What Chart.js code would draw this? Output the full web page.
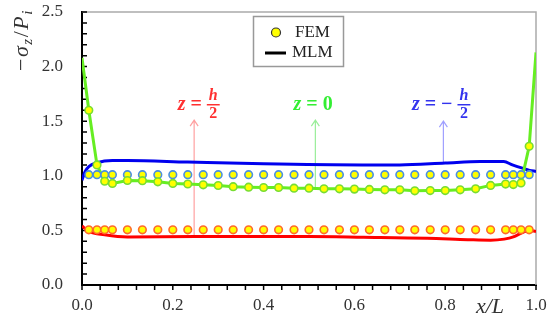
<!DOCTYPE html>
<html>
<head>
<meta charset="utf-8">
<script src="https://cdn.jsdelivr.net/npm/chart.js@4"></script>
<style>
  body { margin: 0; background: #fff; }
  #wrap { width: 549px; height: 321px; }
</style>
</head>
<body>
<div id="wrap"><canvas id="chart"></canvas></div>
<script>
// FEM sample positions (x/L)
const xFem = [0.015, 0.033, 0.05, 0.067, 0.1, 0.133, 0.167, 0.2, 0.233, 0.267, 0.3,
  0.333, 0.367, 0.4, 0.433, 0.467, 0.5, 0.533, 0.567, 0.6, 0.633, 0.667, 0.7,
  0.733, 0.767, 0.8, 0.833, 0.867, 0.9, 0.933, 0.95, 0.967, 0.985];

// FEM values
const femTop = [0.505, 0.505, 0.505, 0.505, 0.505, 0.505, 0.505, 0.505, 0.505, 0.505, 0.505,
  0.505, 0.505, 0.505, 0.505, 0.505, 0.505, 0.505, 0.505, 0.505, 0.505, 0.505, 0.505,
  0.505, 0.505, 0.505, 0.505, 0.505, 0.505, 0.505, 0.505, 0.505, 0.505];
const femMid = [1.6, 1.1, 0.95, 0.93, 0.957, 0.955, 0.945, 0.93, 0.925, 0.917, 0.911,
  0.9, 0.896, 0.893, 0.893, 0.887, 0.887, 0.881, 0.881, 0.878, 0.875, 0.872, 0.872,
  0.862, 0.865, 0.865, 0.872, 0.881, 0.912, 0.924, 0.92, 0.935, 1.27];
const femBot = [1.01, 1.01, 1.01, 1.01, 1.01, 1.01, 1.01, 1.01, 1.01, 1.01, 1.01,
  1.01, 1.01, 1.01, 1.01, 1.01, 1.01, 1.01, 1.01, 1.01, 1.01, 1.01, 1.01,
  1.01, 1.01, 1.01, 1.01, 1.01, 1.01, 1.01, 1.01, 1.01, 1.01];

// MLM curves
const mlmTopX = [0, 0.015, 0.05, 0.1, 0.25, 0.5, 0.62, 0.76, 0.85, 0.9, 0.93, 0.95, 0.97, 0.985, 1.0];
const mlmTop = [0.54, 0.49, 0.46, 0.44, 0.443, 0.443, 0.437, 0.428, 0.415, 0.41, 0.42, 0.44, 0.48, 0.5, 0.49];
const mlmMidX = [0, 0.015, 0.033, 0.05, 0.067, 0.1, 0.133, 0.167, 0.2, 0.233, 0.267, 0.3,
  0.333, 0.367, 0.4, 0.433, 0.467, 0.5, 0.533, 0.567, 0.6, 0.633, 0.667, 0.7,
  0.733, 0.767, 0.8, 0.833, 0.867, 0.9, 0.933, 0.95, 0.967, 0.985, 1.0];
const mlmMid = [2.08, 1.6, 1.1, 0.95, 0.93, 0.957, 0.955, 0.945, 0.93, 0.925, 0.917, 0.911,
  0.9, 0.896, 0.893, 0.893, 0.887, 0.887, 0.881, 0.881, 0.878, 0.875, 0.872, 0.872,
  0.862, 0.865, 0.865, 0.872, 0.881, 0.912, 0.924, 0.92, 0.935, 1.27, 2.13];
const mlmBotX = [0, 0.007, 0.015, 0.033, 0.067, 0.1, 0.233, 0.4, 0.617, 0.7, 0.8, 0.877, 0.929, 0.948, 0.97, 0.986, 1.0];
const mlmBot = [0.96, 1.04, 1.085, 1.12, 1.14, 1.14, 1.126, 1.11, 1.1, 1.1, 1.117, 1.13, 1.13, 1.1, 1.07, 1.05, 1.04];

const xTicks = [0, 0.2, 0.4, 0.6, 0.8, 1.0];
const yTicks = [0, 0.5, 1.0, 1.5, 2.0, 2.5];

// z labels: text centre x, arrow x, arrow from/to (data units)
const notes = [
  { parts: ["z", "=", ["h", "2"]], cx: 0.257, ax: 0.247, from: 0.445, to: 1.51, color: "#ff3030", arrow: "#ffa0a0" },
  { parts: ["z", "=", "0"], cx: 0.509, ax: 0.514, from: 0.887, to: 1.51, color: "#33ee33", arrow: "#99ee99" },
  { parts: ["z", "=", "\u2212", ["h", "2"]], cx: 0.791, ax: 0.796, from: 1.115, to: 1.5, color: "#3333ee", arrow: "#a0a0ff" }
];
const noteY = 1.66;

const SERIF = '"Liberation Serif", "DejaVu Serif", serif';

const pts = (xs, ys) => xs.map((x, i) => ({ x: x, y: ys[i] }));

const femStyle = (border) => ({
  type: "line", showLine: false, pointRadius: 3.8, pointBorderWidth: 1.6,
  pointBackgroundColor: "#ffff00", pointBorderColor: border, order: 1
});

const line = (color, tension) => ({
  type: "line", borderColor: color, borderWidth: 3, pointRadius: 0,
  tension: tension, cubicInterpolationMode: tension ? "monotone" : "default", order: 2
});

const deco = {
  id: "deco",
  beforeDatasetsDraw(chart) {
    const { ctx, chartArea: a, scales: { x, y } } = chart;
    ctx.save();
    ctx.strokeStyle = "#aaa";
    ctx.lineWidth = 1.5;
    ctx.beginPath();
    ctx.moveTo(a.left, a.top);
    ctx.lineTo(a.right, a.top);
    ctx.lineTo(a.right, a.bottom);
    ctx.stroke();

    ctx.strokeStyle = "#000";
    ctx.lineWidth = 1.5;
    ctx.beginPath();
    for (let i = 0; i <= 25; i++) {
      const px = x.getPixelForValue(i * 0.04);
      ctx.moveTo(px, a.bottom);
      ctx.lineTo(px, a.bottom + 5);
    }
    for (let i = 0; i <= 25; i++) {
      const py = y.getPixelForValue(i * 0.1);
      ctx.moveTo(a.left, py);
      ctx.lineTo(a.left + 5, py);
    }
    ctx.stroke();

    // arrows
    notes.forEach(n => {
      const px = x.getPixelForValue(n.ax);
      const p0 = y.getPixelForValue(n.from);
      const p1 = y.getPixelForValue(n.to);
      ctx.strokeStyle = n.arrow;
      ctx.lineWidth = 1.2;
      ctx.beginPath();
      ctx.moveTo(px, p0);
      ctx.lineTo(px, p1);
      ctx.moveTo(px - 4, p1 + 6);
      ctx.lineTo(px, p1);
      ctx.lineTo(px + 4, p1 + 6);
      ctx.stroke();
    });
    ctx.restore();
  },
  afterDraw(chart) {
    const { ctx, scales: { x, y } } = chart;
    ctx.save();

    // y title  -σz/Pi
    ctx.translate(21, 40);
    ctx.rotate(-Math.PI / 2);
    ctx.fillStyle = "#333";
    ctx.textBaseline = "alphabetic";
    const big = "22px " + SERIF, bigI = "italic 22px " + SERIF, subI = "italic 15px " + SERIF;
    const yt = [["\u2212", big, 0], ["\u03c3", bigI, 0], ["z", subI, 4], ["/", big, 0], ["P", bigI, 0], ["i", subI, 4]];
    let w = 0;
    yt.forEach(p => { ctx.font = p[1]; w += ctx.measureText(p[0]).width + 1.5; });
    let cx = -w / 2;
    yt.forEach(p => { ctx.font = p[1]; ctx.fillText(p[0], cx, 7 + p[2]); cx += ctx.measureText(p[0]).width + 1.5; });
    ctx.setTransform(1, 0, 0, 1, 0, 0);

    // x title  x/L
    ctx.font = "italic 22px " + SERIF;
    ctx.textAlign = "center";
    ctx.fillText("x/L", 490, 313);

    // legend
    ctx.strokeStyle = "#999";
    ctx.lineWidth = 1.5;
    ctx.fillStyle = "#fff";
    ctx.fillRect(253.5, 16.5, 90, 50);
    ctx.strokeRect(253.5, 16.5, 90, 50);
    ctx.beginPath();
    ctx.arc(276, 32.5, 4.5, 0, Math.PI * 2);
    ctx.fillStyle = "#ffff00";
    ctx.fill();
    ctx.strokeStyle = "#333";
    ctx.lineWidth = 1.2;
    ctx.stroke();
    ctx.strokeStyle = "#000";
    ctx.lineWidth = 3;
    ctx.beginPath();
    ctx.moveTo(265, 53);
    ctx.lineTo(286, 53);
    ctx.stroke();
    ctx.fillStyle = "#222";
    ctx.font = "17px " + SERIF;
    ctx.textAlign = "left";
    ctx.textBaseline = "middle";
    ctx.fillText("FEM", 295, 33);
    ctx.fillText("MLM", 292, 53);

    // z labels
    const fMain = "bold italic 20px " + SERIF, fUp = "bold 20px " + SERIF, fFrac = "bold italic 16px " + SERIF, fFracUp = "bold 16px " + SERIF;
    const gap = 5;
    notes.forEach(n => {
      const py = y.getPixelForValue(noteY);
      const widths = n.parts.map(p => {
        if (Array.isArray(p)) { ctx.font = fFrac; return ctx.measureText(p[0]).width + 4; }
        ctx.font = p === "z" ? fMain : fUp;
        return ctx.measureText(p).width;
      });
      let total = widths.reduce((s, v) => s + v, 0) + gap * (n.parts.length - 1);
      let px = x.getPixelForValue(n.cx) - total / 2;
      ctx.fillStyle = n.color;
      ctx.strokeStyle = n.color;
      ctx.textAlign = "left";
      ctx.textBaseline = "alphabetic";
      n.parts.forEach((p, i) => {
        if (Array.isArray(p)) {
          const mid = px + widths[i] / 2;
          ctx.textAlign = "center";
          ctx.font = fFrac;
          ctx.fillText(p[0], mid, py - 4);
          ctx.font = fFracUp;
          ctx.fillText(p[1], mid, py + 14);
          ctx.lineWidth = 1.5;
          ctx.beginPath();
          ctx.moveTo(px, py + 1);
          ctx.lineTo(px + widths[i], py + 1);
          ctx.stroke();
          ctx.textAlign = "left";
        } else {
          ctx.font = p === "z" ? fMain : fUp;
          ctx.fillText(p, px, py + 6);
        }
        px += widths[i] + gap;
      });
    });
    ctx.restore();
  }
};

new Chart(document.getElementById("chart"), {
  type: "line",
  data: {
    datasets: [
      Object.assign({ label: "FEM z=h/2", data: pts(xFem, femTop) }, femStyle("#ff6a2a")),
      Object.assign({ label: "FEM z=0", data: pts(xFem, femMid) }, femStyle("#77dd33")),
      Object.assign({ label: "FEM z=-h/2", data: pts(xFem, femBot) }, femStyle("#4a8fe0")),
      Object.assign({ label: "MLM z=h/2", data: pts(mlmTopX, mlmTop) }, line("#ff0000", 0.4)),
      Object.assign({ label: "MLM z=0", data: pts(mlmMidX, mlmMid) }, line("#66ee22", 0)),
      Object.assign({ label: "MLM z=-h/2", data: pts(mlmBotX, mlmBot) }, line("#0000ee", 0.4))
    ]
  },
  options: {
    responsive: true,
    maintainAspectRatio: false,
    animation: false,
    layout: { padding: { top: 12, right: 13, left: 0, bottom: 0 } },
    plugins: { legend: { display: false }, tooltip: { enabled: false } },
    scales: {
      x: {
        type: "linear", min: 0, max: 1,
        afterFit: s => { s.height = 36; s.paddingRight = 0; s.paddingLeft = 0; },
        afterBuildTicks: s => { s.ticks = xTicks.map(v => ({ value: v })); },
        grid: { display: false, drawTicks: false },
        border: { color: "#000", width: 2 },
        ticks: { padding: 10, color: "#333", font: { family: SERIF, size: 17 }, callback: v => v.toFixed(1) }
      },
      y: {
        type: "linear", min: 0, max: 2.5,
        afterFit: s => { s.width = 82; s.paddingTop = 0; s.paddingBottom = 0; },
        afterBuildTicks: s => { s.ticks = yTicks.map(v => ({ value: v })); },
        grid: { display: false, drawTicks: false },
        border: { color: "#000", width: 2 },
        ticks: { padding: 19, color: "#333", font: { family: SERIF, size: 17 }, callback: v => v.toFixed(1) }
      }
    }
  },
  plugins: [deco]
});
</script>
</body>
</html>
